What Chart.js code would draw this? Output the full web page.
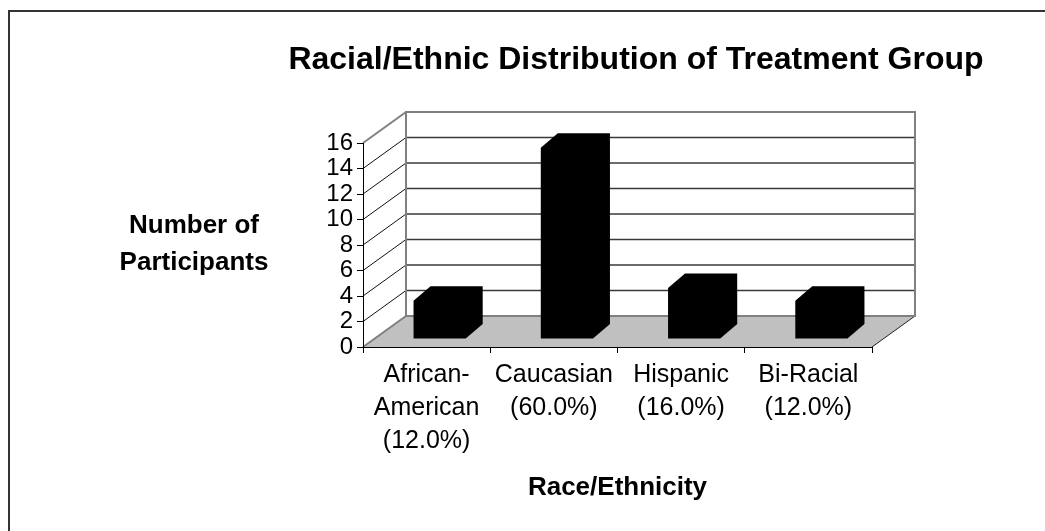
<!DOCTYPE html>
<html>
<head>
<meta charset="utf-8">
<script src="https://cdn.jsdelivr.net/npm/chart.js@4.4.0/dist/chart.umd.min.js"></script>
<style>
  html, body { margin: 0; padding: 0; background: #fff; }
  canvas { display: block; }
</style>
</head>
<body>
<canvas id="chart" width="1045" height="531"></canvas>
<script>
const categories = [
    ['African-', 'American', '(12.0%)'],
    ['Caucasian', '(60.0%)'],
    ['Hispanic', '(16.0%)'],
    ['Bi-Racial', '(12.0%)'],
];
const participants = [3, 15, 4, 3];
const yMin = 0;
const yMax = 16;
const yStep = 2;

const chartTitle = 'Racial/Ethnic Distribution of Treatment Group';
const yTitle = ['Number of', 'Participants'];
const xTitle = 'Race/Ethnicity';

const FONT = "'Liberation Sans', Arial, sans-serif";

// 3d look
const wall = { dx: 43, dy: -31 };
const barFront = { dx: 13, dy: -8 };
const barDepth = { dx: 17, dy: -14.5 };

function line(ctx, x1, y1, x2, y2, color, width) {
    ctx.beginPath();
    ctx.moveTo(x1, y1);
    ctx.lineTo(x2, y2);
    ctx.strokeStyle = color;
    ctx.lineWidth = width;
    ctx.stroke();
}

function poly(ctx, pts, fill) {
    ctx.beginPath();
    ctx.moveTo(pts[0][0], pts[0][1]);
    for (let i = 1; i < pts.length; i++) ctx.lineTo(pts[i][0], pts[i][1]);
    ctx.closePath();
    ctx.fillStyle = fill;
    ctx.fill();
}

const scene3d = {
    id: 'scene3d',
    beforeDraw(chart) {
        const ctx = chart.ctx;
        const a = chart.chartArea;
        const y = chart.scales.y;
        ctx.save();
        ctx.fillStyle = '#fff';
        ctx.fillRect(0, 0, chart.width, chart.height);

        // outer frame
        ctx.strokeStyle = '#333';
        ctx.lineWidth = 2;
        ctx.strokeRect(9, 11, 2000, 2000);

        const bl = a.left + wall.dx, br = a.right + wall.dx;
        const bTop = y.getPixelForValue(yMax) + wall.dy;
        const bBot = y.getPixelForValue(yMin) + wall.dy;

        // floor
        poly(ctx, [[a.left, a.bottom], [bl, bBot], [br, bBot], [a.right, a.bottom]], '#c0c0c0');
        line(ctx, a.left, a.bottom, bl, bBot, '#808080', 2);
        line(ctx, a.right, a.bottom, br, bBot, '#222', 1);

        // gridlines on back wall and side wall
        y.ticks.forEach(t => {
            const py = y.getPixelForValue(t.value);
            if (t.value === yMin || t.value === yMax) return;
            line(ctx, bl, py + wall.dy, br, py + wall.dy, '#3a3a3a', 1.5);
            line(ctx, a.left, py, bl, py + wall.dy, '#111', 1);
        });

        // wall outlines
        ctx.strokeStyle = '#808080';
        ctx.lineWidth = 2;
        ctx.beginPath();
        ctx.moveTo(bl, bBot);
        ctx.lineTo(bl, bTop);
        ctx.lineTo(br, bTop);
        ctx.lineTo(br, bBot);
        ctx.lineTo(bl, bBot);
        ctx.stroke();
        line(ctx, a.left, y.getPixelForValue(yMax), bl, bTop, '#808080', 2);
        ctx.restore();
    },
    afterDatasetsDraw(chart) {
        const ctx = chart.ctx;
        const meta = chart.getDatasetMeta(0);
        ctx.save();
        meta.data.forEach(bar => {
            const p = bar.getProps(['x', 'y', 'base', 'width'], true);
            const L = p.x - p.width / 2 + barFront.dx;
            const R = p.x + p.width / 2 + barFront.dx;
            const T = p.y + barFront.dy;
            const B = p.base + barFront.dy;
            const dx = barDepth.dx, dy = barDepth.dy;
            poly(ctx, [[L, T], [L + dx, T + dy], [R + dx, T + dy], [R + dx, B + dy], [R, B], [L, B]], '#000');
        });
        ctx.restore();
    },
    afterDraw(chart) {
        const ctx = chart.ctx;
        const a = chart.chartArea;
        ctx.save();
        ctx.fillStyle = '#000';
        ctx.textAlign = 'center';
        ctx.textBaseline = 'middle';
        ctx.font = `bold 32px ${FONT}`;
        ctx.fillText(chartTitle, 636, 60);
        ctx.font = `bold 26px ${FONT}`;
        ctx.fillText(yTitle[0], 194, 226);
        ctx.fillText(yTitle[1], 194, 263);
        ctx.fillText(xTitle, (a.left + a.right) / 2, 488);
        ctx.restore();
    },
};

new Chart(document.getElementById('chart'), {
    type: 'bar',
    data: {
        labels: categories,
        datasets: [{
            label: 'Participants',
            data: participants,
            backgroundColor: 'rgba(0,0,0,0)',
            borderWidth: 0,
            barPercentage: 0.41,
            categoryPercentage: 1,
        }],
    },
    options: {
        responsive: false,
        animation: false,
        devicePixelRatio: 1,
        layout: { padding: { left: 0, top: 143, right: 173, bottom: 0 } },
        plugins: {
            legend: { display: false },
            tooltip: { enabled: false },
            title: { display: false },
        },
        scales: {
            x: {
                afterFit: s => { s.height = 184; },
                grid: { offset: true, drawOnChartArea: false, drawTicks: true, tickLength: 6, color: '#000' },
                border: { display: true, color: '#000', width: 1 },
                ticks: {
                    autoSkip: false, maxRotation: 0, padding: 6, color: '#000',
                    font: { family: FONT, size: 25, lineHeight: 1.32 },
                },
            },
            y: {
                min: yMin,
                max: yMax,
                afterFit: s => { s.width = 363; },
                grid: { drawOnChartArea: false, drawTicks: true, tickLength: 6, color: '#000' },
                border: { display: true, color: '#000', width: 1 },
                ticks: {
                    stepSize: yStep, autoSkip: false, padding: 4, color: '#000',
                    font: { family: FONT, size: 24 },
                },
            },
        },
    },
    plugins: [scene3d],
});
</script>
</body>
</html>
